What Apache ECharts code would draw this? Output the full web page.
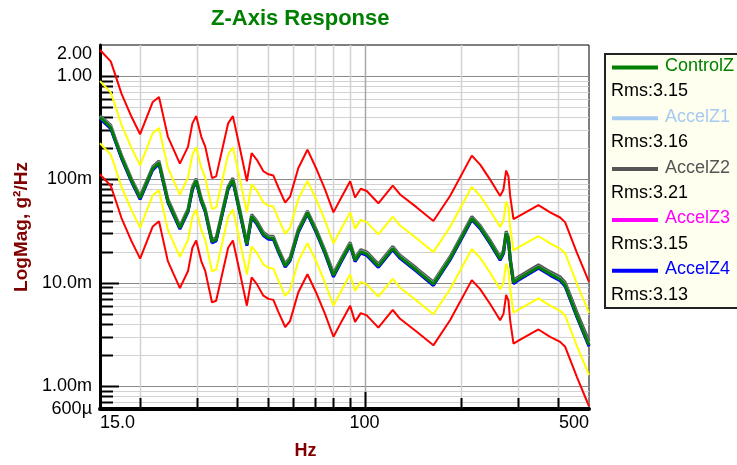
<!DOCTYPE html>
<html>
<head>
<meta charset="utf-8">
<script src="https://cdn.jsdelivr.net/npm/echarts@6/dist/echarts.min.js"></script>
<style>
html, body { margin: 0; padding: 0; background: #fff; }
#chart { width: 737px; height: 465px; }
</style>
</head>
<body>
<div id="chart"></div>
<script>
// frequency breakpoints (Hz) shared by every trace
var freqHz = [15.0, 16.2, 16.7, 17.5, 18.8, 20.0, 21.9, 22.9, 24.4, 26.6,
  28.2, 29.1, 29.9, 31.0, 31.9, 33.5, 34.5, 37.6, 38.9, 41.0,
  43.0, 44.5, 46.2, 48.4, 50.2, 52.0, 53.9, 56.6, 58.6, 62.2,
  66.4, 71.0, 75.3, 80.0, 84.9, 90.2, 93.4, 97.3, 101.6, 110.4,
  122.4, 129.0, 145.4, 163.8, 184.6, 215.8, 229.1, 246.1, 264.4, 270.8,
  276.0, 280.6, 284.1, 290.9, 301.5, 348.0, 378.4, 406.5, 421.5, 458.3, 500];

var abortHigh = [1.79, 1.39, 1.05, 0.676, 0.404, 0.274, 0.562, 0.628, 0.260, 0.142,
  0.208, 0.349, 0.410, 0.260, 0.208, 0.103, 0.107, 0.349, 0.410, 0.194,
  0.096, 0.180, 0.155, 0.120, 0.112, 0.109, 0.0836, 0.0596, 0.068, 0.129,
  0.194, 0.124, 0.080, 0.048, 0.068, 0.096, 0.0668, 0.0812, 0.0772, 0.0588,
  0.0872, 0.0716, 0.0536, 0.0396, 0.0692, 0.170, 0.139, 0.0996, 0.0692, 0.080,
  0.122, 0.107, 0.0692, 0.0412, 0.044, 0.0564, 0.048, 0.0428, 0.0384, 0.0196, 0.0102];

var alarmHigh = [0.894, 0.694, 0.526, 0.338, 0.202, 0.137, 0.281, 0.314, 0.130, 0.071,
  0.104, 0.174, 0.205, 0.130, 0.104, 0.0516, 0.0536, 0.174, 0.205, 0.0968,
  0.048, 0.090, 0.0776, 0.060, 0.0558, 0.0546, 0.0418, 0.0298, 0.034, 0.0646,
  0.0968, 0.0622, 0.040, 0.024, 0.034, 0.048, 0.0334, 0.0406, 0.0386, 0.0294,
  0.0436, 0.0358, 0.0268, 0.0198, 0.0346, 0.0848, 0.0694, 0.0498, 0.0346, 0.040,
  0.0612, 0.0536, 0.0346, 0.0206, 0.022, 0.0282, 0.024, 0.0214, 0.0192, 0.0098, 0.0051];

var alarmLow = [0.224, 0.174, 0.132, 0.0845, 0.0505, 0.0342, 0.0703, 0.0785, 0.0325, 0.0178,
  0.026, 0.0436, 0.0512, 0.0325, 0.026, 0.0129, 0.0134, 0.0436, 0.0512, 0.0242,
  0.012, 0.0225, 0.0194, 0.015, 0.014, 0.0137, 0.0105, 0.00745, 0.0085, 0.0162,
  0.0242, 0.0156, 0.010, 0.006, 0.0085, 0.012, 0.00835, 0.0102, 0.00965, 0.00735,
  0.0109, 0.00895, 0.0067, 0.00495, 0.00865, 0.0212, 0.0174, 0.0125, 0.00865, 0.010,
  0.0153, 0.0134, 0.00865, 0.00515, 0.0055, 0.00705, 0.006, 0.00535, 0.0048, 0.00245, 0.00128];

var abortLow = [0.112, 0.0868, 0.0658, 0.0423, 0.0253, 0.0171, 0.0351, 0.0393, 0.0162, 0.00888,
  0.013, 0.0218, 0.0256, 0.0162, 0.013, 0.00645, 0.0067, 0.0218, 0.0256, 0.0121,
  0.006, 0.01125, 0.0097, 0.0075, 0.00698, 0.00683, 0.00523, 0.00373, 0.00425, 0.00808,
  0.0121, 0.00778, 0.005, 0.003, 0.00425, 0.006, 0.00418, 0.00508, 0.00483, 0.00368,
  0.00545, 0.00448, 0.00335, 0.00248, 0.00433, 0.0106, 0.00868, 0.00623, 0.00433, 0.005,
  0.00765, 0.0067, 0.00433, 0.00258, 0.00275, 0.00353, 0.003, 0.00268, 0.0024, 0.00123, 0.000638];

var controlZ = [0.40, 0.32, 0.245, 0.165, 0.098, 0.066, 0.128, 0.145, 0.062, 0.034,
  0.050, 0.082, 0.098, 0.063, 0.050, 0.0250, 0.0262, 0.083, 0.099, 0.047,
  0.0235, 0.0440, 0.0380, 0.0295, 0.0272, 0.0270, 0.0205, 0.0146, 0.0168, 0.0318,
  0.0478, 0.0306, 0.0197, 0.0118, 0.0168, 0.0236, 0.0165, 0.0200, 0.0190, 0.0145,
  0.0215, 0.0177, 0.0132, 0.0097, 0.0171, 0.0420, 0.0344, 0.0246, 0.0170, 0.0198,
  0.0303, 0.0265, 0.0170, 0.0101, 0.0109, 0.0142, 0.0122, 0.0108, 0.0095, 0.0048, 0.00250];

var accelZ1 = [0.404, 0.324, 0.247, 0.167, 0.099, 0.0667, 0.129, 0.146, 0.0627, 0.0344,
  0.0505, 0.0828, 0.099, 0.0636, 0.0505, 0.0253, 0.0265, 0.0838, 0.100, 0.0475,
  0.0237, 0.0444, 0.0384, 0.0298, 0.0275, 0.0273, 0.0207, 0.0148, 0.0170, 0.0321,
  0.0483, 0.0309, 0.0199, 0.0119, 0.0170, 0.0238, 0.0167, 0.0202, 0.0192, 0.0146,
  0.0217, 0.0179, 0.0133, 0.0098, 0.0173, 0.0424, 0.0347, 0.0248, 0.0172, 0.0200,
  0.0306, 0.0268, 0.0172, 0.0102, 0.0110, 0.0143, 0.0123, 0.0109, 0.0096, 0.00485, 0.00253];

var accelZ2 = [0.415, 0.335, 0.255, 0.172, 0.102, 0.069, 0.133, 0.151, 0.065, 0.0355,
  0.052, 0.085, 0.102, 0.066, 0.052, 0.0262, 0.0273, 0.086, 0.103, 0.049,
  0.0245, 0.0458, 0.0397, 0.0308, 0.0284, 0.0282, 0.0214, 0.0153, 0.0176, 0.0332,
  0.0497, 0.0320, 0.0206, 0.0124, 0.0176, 0.0246, 0.0173, 0.0209, 0.0199, 0.0152,
  0.0225, 0.0185, 0.0138, 0.0102, 0.0179, 0.0437, 0.0358, 0.0257, 0.0178, 0.0207,
  0.0316, 0.0277, 0.0178, 0.0106, 0.0114, 0.0149, 0.0128, 0.0114, 0.0101, 0.0052, 0.00272];

var accelZ3 = [0.396, 0.317, 0.243, 0.163, 0.097, 0.0653, 0.127, 0.144, 0.0614, 0.0337,
  0.0495, 0.0812, 0.097, 0.0624, 0.0495, 0.0248, 0.0259, 0.0822, 0.098, 0.0465,
  0.0233, 0.0436, 0.0376, 0.0292, 0.0269, 0.0267, 0.0203, 0.0144, 0.0166, 0.0315,
  0.0473, 0.0303, 0.0195, 0.0117, 0.0166, 0.0234, 0.0163, 0.0198, 0.0188, 0.0143,
  0.0213, 0.0175, 0.0131, 0.0095, 0.0169, 0.0416, 0.0340, 0.0243, 0.0168, 0.0196,
  0.0300, 0.0262, 0.0168, 0.0099, 0.0108, 0.0141, 0.0121, 0.0107, 0.0094, 0.00475, 0.00246];

var accelZ4 = [0.388, 0.310, 0.238, 0.160, 0.095, 0.064, 0.124, 0.141, 0.0601, 0.033,
  0.0485, 0.0795, 0.095, 0.0611, 0.0485, 0.0243, 0.0254, 0.0805, 0.096, 0.0456,
  0.0228, 0.0427, 0.0369, 0.0286, 0.0264, 0.0262, 0.0199, 0.0142, 0.0163, 0.0308,
  0.0464, 0.0297, 0.0191, 0.0114, 0.0163, 0.0229, 0.0160, 0.0194, 0.0184, 0.0141,
  0.0209, 0.0172, 0.0128, 0.0094, 0.0166, 0.0407, 0.0334, 0.0239, 0.0165, 0.0192,
  0.0294, 0.0257, 0.0165, 0.0098, 0.0106, 0.0138, 0.0118, 0.0105, 0.0092, 0.00466, 0.00242];

var traceNames = ['ControlZ', 'AccelZ1', 'AccelZ2', 'AccelZ3', 'AccelZ4'];
var traceRms = ['3.15', '3.16', '3.21', '3.15', '3.13'];

// axis ranges and grid line positions
var xMin = 15, xMax = 500;
var yMin = 0.0006, yMax = 2;
var xGridHz = [20, 30, 40, 50, 60, 70, 80, 90, 100, 200, 300, 400];
var yGridMajor = [0.001, 0.01, 0.1, 1];
var yGridMinor = [0.0007, 0.0008, 0.0009,
  0.002, 0.003, 0.004, 0.005, 0.006, 0.007, 0.008, 0.009,
  0.02, 0.03, 0.04, 0.05, 0.06, 0.07, 0.08, 0.09,
  0.2, 0.3, 0.4, 0.5, 0.6, 0.7, 0.8, 0.9];

var traceColors = ['#008000', '#a6caf0', '#555555', '#ff00ff', '#0000ff'];
var font = '"Liberation Sans", Arial, sans-serif';

function pairs(vals) {
  var res = [];
  for (var i = 0; i < freqHz.length; i++) {
    res.push([freqHz[i], vals[i]]);
  }
  return res;
}

function engLabel(v) {
  if (v >= 1) return v.toFixed(2);
  if (v >= 0.001) return (v * 1000).toPrecision(3) + 'm';
  return (v * 1e6).toPrecision(3) + 'µ';
}

function lineSeries(name, vals, color, width) {
  return {
    name: name,
    type: 'line',
    data: pairs(vals),
    symbol: 'none',
    lineStyle: { color: color, width: width },
    animation: false,
    z: 3
  };
}

var chart = echarts.init(document.getElementById('chart'));

var hGridSeries = {
  type: 'custom',
  silent: true,
  z: 1,
  data: yGridMinor.concat(yGridMajor).map(function (v) { return [xMin, v]; }),
  renderItem: function (params, api) {
    var cs = params.coordSys;
    var v = api.value(1);
    var y = Math.round(api.coord([xMin, v])[1]) + 0.5;
    var major = yGridMajor.indexOf(v) >= 0;
    return {
      type: 'group',
      children: [
        { type: 'line', shape: { x1: cs.x, y1: y, x2: cs.x + cs.width, y2: y },
          style: { stroke: major ? '#8a8a8a' : '#d2d2d2', lineWidth: 1 } },
        { type: 'line', shape: { x1: cs.x, y1: y, x2: cs.x + (major ? 19 : 13), y2: y },
          style: { stroke: '#000', lineWidth: 2 } }
      ]
    };
  }
};

var vGridSeries = {
  type: 'custom',
  silent: true,
  z: 1,
  data: xGridHz.map(function (f) { return [f, yMin]; }),
  renderItem: function (params, api) {
    var cs = params.coordSys;
    var f = api.value(0);
    var x = Math.round(api.coord([f, yMin])[0]) + 0.5;
    var major = f === 100;
    var bottom = cs.y + cs.height;
    return {
      type: 'group',
      children: [
        { type: 'line', shape: { x1: x, y1: cs.y, x2: x, y2: bottom },
          style: { stroke: major ? '#a8a8a8' : '#d2d2d2', lineWidth: 1.5 } },
        { type: 'line', shape: { x1: x, y1: bottom, x2: x, y2: bottom - (major ? 17 : 11) },
          style: { stroke: '#000', lineWidth: 2 } }
      ]
    };
  }
};

// legend box drawn as graphic elements
var legendItems = [{
  type: 'rect',
  shape: { x: 605, y: 54, width: 140, height: 254 },
  style: { fill: '#fffff0', stroke: '#222', lineWidth: 2 },
  z: 10
}];
for (var i = 0; i < traceNames.length; i++) {
  var rowY = 66 + i * 50.8;
  legendItems.push({
    type: 'line',
    shape: { x1: 612, y1: rowY + 1.5, x2: 658, y2: rowY + 1.5 },
    style: { stroke: traceColors[i], lineWidth: 4 },
    z: 11
  });
  legendItems.push({
    type: 'text',
    style: { text: traceNames[i], x: 665, y: rowY, fill: traceColors[i],
      font: '18px ' + font, verticalAlign: 'middle' },
    z: 11
  });
  legendItems.push({
    type: 'text',
    style: { text: 'Rms:' + traceRms[i], x: 611, y: rowY + 25.4, fill: '#000',
      font: '18px ' + font, verticalAlign: 'middle' },
    z: 11
  });
}

var option = {
  backgroundColor: '#fff',
  animation: false,
  title: {
    text: 'Z-Axis Response',
    left: 206,
    top: 3,
    textStyle: { color: '#008000', fontSize: 22, fontWeight: 'bold', fontFamily: font }
  },
  grid: {
    left: 100, right: 148, top: 45, bottom: 54,
    show: true, borderColor: '#000', borderWidth: 1
  },
  xAxis: {
    type: 'log',
    logBase: 10,
    min: xMin,
    max: xMax,
    name: 'Hz',
    nameLocation: 'middle',
    nameGap: 33,
    nameTextStyle: { color: '#800000', fontSize: 18, fontWeight: 'bold', fontFamily: font,
      padding: [0, 78, 0, 0] },
    axisLine: { lineStyle: { color: '#000', width: 4 } },
    axisTick: { show: false },
    splitLine: { show: false },
    axisLabel: {
      color: '#000', fontSize: 18, fontFamily: font, margin: 5,
      alignMinLabel: 'left', alignMaxLabel: 'right',
      showMinLabel: true, showMaxLabel: true,
      formatter: function (v) { return Number(v).toPrecision(3); }
    }
  },
  yAxis: {
    type: 'log',
    logBase: 10,
    min: yMin,
    max: yMax,
    name: 'LogMag, g²/Hz',
    nameLocation: 'middle',
    nameGap: 68,
    nameTextStyle: { color: '#800000', fontSize: 19, fontWeight: 'bold', fontFamily: font },
    axisLine: { lineStyle: { color: '#000', width: 3 } },
    axisTick: { show: false },
    splitLine: { show: false },
    axisLabel: {
      color: '#000', fontSize: 18, fontFamily: font, margin: 8,
      verticalAlignMaxLabel: 'top',
      showMinLabel: true, showMaxLabel: true, hideOverlap: false,
      formatter: engLabel
    }
  },
  graphic: legendItems,
  series: [
    hGridSeries,
    vGridSeries,
    lineSeries('abortHigh', abortHigh, '#ff0000', 2),
    lineSeries('alarmHigh', alarmHigh, '#ffff00', 2),
    lineSeries('alarmLow', alarmLow, '#ffff00', 2),
    lineSeries('abortLow', abortLow, '#ff0000', 2),
    lineSeries(traceNames[2], accelZ2, traceColors[2], 3),
    lineSeries(traceNames[1], accelZ1, traceColors[1], 3),
    lineSeries(traceNames[3], accelZ3, traceColors[3], 3),
    lineSeries(traceNames[4], accelZ4, traceColors[4], 3),
    lineSeries(traceNames[0], controlZ, traceColors[0], 3)
  ]
};

chart.setOption(option);
</script>
</body>
</html>
